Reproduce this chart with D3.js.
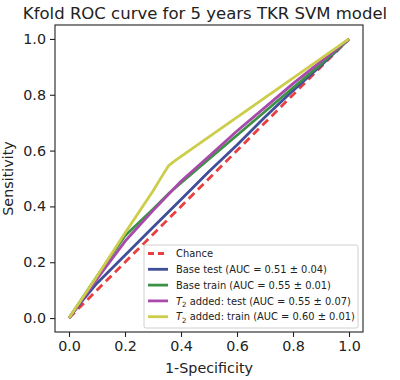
<!DOCTYPE html>
<html>
<head>
<meta charset="utf-8">
<script src="https://cdn.jsdelivr.net/npm/d3@7"></script>
<style>
  html, body { margin: 0; padding: 0; background: #fff; }
  svg { display: block; font-family: "DejaVu Sans", sans-serif; }
</style>
</head>
<body>
<svg id="chart" width="400" height="380"></svg>
<script>
// ---- data ----
const chanceFpr = [0, 1];
const chanceTpr = [0, 1];
const baseTestFpr = [0, 0.05, 0.1, 0.2, 0.3, 0.4, 0.5, 0.6, 0.7, 0.8, 0.9, 1.0];
const baseTestTpr = [0, 0.065, 0.125, 0.225, 0.325, 0.425, 0.525, 0.62, 0.72, 0.815, 0.905, 1.0];
const baseTrainFpr = [0, 0.1, 0.2, 0.3, 0.36, 0.5, 0.6, 0.7, 0.8, 0.9, 1.0];
const baseTrainTpr = [0, 0.15, 0.295, 0.39, 0.45, 0.57, 0.655, 0.74, 0.825, 0.91, 1.0];
const t2TestFpr = [0, 0.1, 0.2, 0.3, 0.4, 0.5, 0.6, 0.7, 0.8, 0.9, 1.0];
const t2TestTpr = [0, 0.14, 0.275, 0.385, 0.49, 0.58, 0.67, 0.755, 0.84, 0.92, 1.0];
const t2TrainFpr = [0, 0.1, 0.2, 0.3, 0.33, 0.355, 0.38, 1.0];
const t2TrainTpr = [0, 0.15, 0.305, 0.455, 0.505, 0.545, 0.565, 1.0];
const xTicks = [0, 0.2, 0.4, 0.6, 0.8, 1.0];
const yTicks = [0, 0.2, 0.4, 0.6, 0.8, 1.0];
const legendLabels = ["Chance", "Base test (AUC = 0.51 \u00b1 0.04)", "Base train (AUC = 0.55 \u00b1 0.01)", "added: test (AUC = 0.55 \u00b1 0.07)", "added: train (AUC = 0.60 \u00b1 0.01)"];

const series = [
  {fpr: baseTestFpr, tpr: baseTestTpr, color: "#3f4f9a", t2: false, label: legendLabels[1]},
  {fpr: baseTrainFpr, tpr: baseTrainTpr, color: "#3b9246", t2: false, label: legendLabels[2]},
  {fpr: t2TestFpr, tpr: t2TestTpr, color: "#a84aaa", t2: true, label: legendLabels[3]},
  {fpr: t2TrainFpr, tpr: t2TrainTpr, color: "#cdcd4c", t2: true, label: legendLabels[4]}
];

const svg = d3.select("#chart");
const L = 55, R = 363, T = 25, B = 332;
const x = d3.scaleLinear().domain([-0.05, 1.05]).range([L, R]);
const y = d3.scaleLinear().domain([-0.05, 1.05]).range([B, T]);

// title
svg.append("text").attr("x", (L + R) / 2 - 4).attr("y", 19)
  .attr("text-anchor", "middle").attr("font-size", 16.5).attr("fill", "#222")
  .text("Kfold ROC curve for 5 years TKR SVM model");

const line = d3.line().x(d => x(d[0])).y(d => y(d[1]));
const plot = svg.append("g");

plot.append("path").datum(d3.zip(chanceFpr, chanceTpr))
  .attr("d", line).attr("fill", "none").attr("stroke", "#e8403f")
  .attr("stroke-width", 2.8).attr("stroke-dasharray", "8,5");
series.forEach(s => {
  plot.append("path").datum(d3.zip(s.fpr, s.tpr))
    .attr("d", line).attr("fill", "none").attr("stroke", s.color)
    .attr("stroke-width", 2.8).attr("stroke-linejoin", "round");
});

// axes
const xAxis = svg.append("g").attr("transform", `translate(0,${B})`)
  .call(d3.axisBottom(x).tickValues(xTicks).tickFormat(d3.format(".1f")).tickSize(5).tickPadding(4));
const yAxis = svg.append("g").attr("transform", `translate(${L},0)`)
  .call(d3.axisLeft(y).tickValues(yTicks).tickFormat(d3.format(".1f")).tickSize(5).tickPadding(4));
[xAxis, yAxis].forEach(a => {
  a.select(".domain").remove();
  a.selectAll("text").attr("font-size", 14.3).attr("fill", "#222").attr("font-family", "DejaVu Sans");
  a.selectAll("line").attr("stroke", "#222").attr("stroke-width", 1.1);
});
svg.append("rect").attr("x", L).attr("y", T).attr("width", R - L).attr("height", B - T)
  .attr("fill", "none").attr("stroke", "#222").attr("stroke-width", 1.1);

// axis labels
svg.append("text").attr("x", (L + R) / 2).attr("y", 373).attr("text-anchor", "middle")
  .attr("font-size", 14.3).attr("fill", "#222").text("1-Specificity");
svg.append("text").attr("transform", `translate(13,${(T + B) / 2}) rotate(-90)`)
  .attr("text-anchor", "middle").attr("font-size", 14.3).attr("fill", "#222").text("Sensitivity");

// legend
const lg = svg.append("g");
lg.append("rect").attr("x", 144).attr("y", 245).attr("width", 214).attr("height", 83)
  .attr("rx", 2).attr("fill", "rgba(255,255,255,0.8)").attr("stroke", "#d0d0d0").attr("stroke-width", 1);
const items = [{color: "#e8403f", dash: "6,4", t2: false, label: legendLabels[0]}].concat(series);
items.forEach((it, i) => {
  const yy = 253.5 + i * 15.8;
  lg.append("line").attr("x1", 148).attr("x2", 168).attr("y1", yy).attr("y2", yy)
    .attr("stroke", it.color).attr("stroke-width", 2.8)
    .attr("stroke-dasharray", it.dash || null);
  const t = lg.append("text").attr("x", 176).attr("y", yy + 3.6).attr("font-size", 9.9).attr("fill", "#222");
  if (it.t2) {
    t.append("tspan").attr("font-style", "italic").text("T");
    t.append("tspan").attr("font-size", 7.1).attr("dy", 2.5).text("2");
    t.append("tspan").attr("dy", -2.5).text(" " + it.label);
  } else {
    t.text(it.label);
  }
});
</script>
</body>
</html>
